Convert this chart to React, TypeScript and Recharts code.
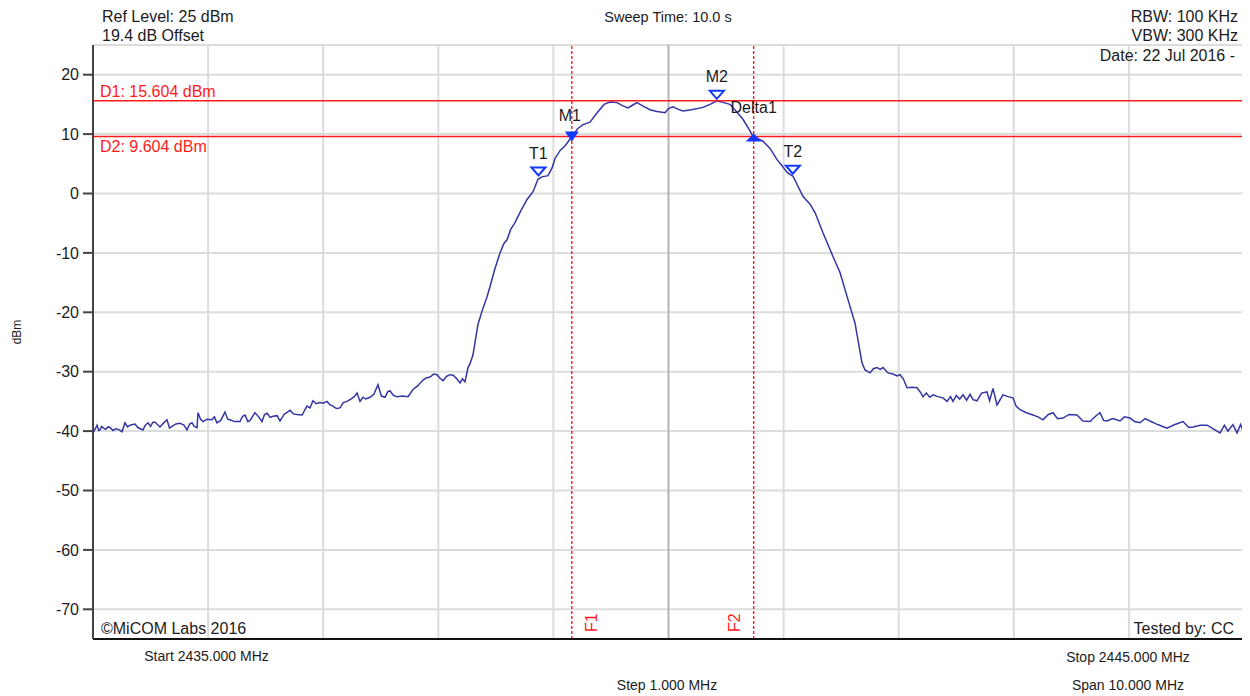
import React from "react";
import { ComposedChart, Line, XAxis, YAxis, ReferenceLine, Scatter } from "recharts";

// Trace: frequency (MHz) and level (dBm)
const freqs = [
  2435.0, 2435.02, 2435.035, 2435.05, 2435.061, 2435.075, 2435.087, 2435.11, 2435.13, 2435.148,
  2435.174, 2435.2, 2435.23, 2435.252, 2435.278, 2435.3, 2435.321, 2435.345, 2435.365, 2435.39,
  2435.434, 2435.455, 2435.478, 2435.5, 2435.52, 2435.539, 2435.56, 2435.582, 2435.61, 2435.643,
  2435.665, 2435.686, 2435.72, 2435.756, 2435.79, 2435.817, 2435.84, 2435.86, 2435.88, 2435.904,
  2435.912, 2435.935, 2435.956, 2435.99, 2436.034, 2436.055, 2436.077, 2436.11, 2436.147, 2436.17,
  2436.19, 2436.23, 2436.277, 2436.3, 2436.321, 2436.345, 2436.364, 2436.407, 2436.44, 2436.468,
  2436.49, 2436.512, 2436.54, 2436.564, 2436.6, 2436.625, 2436.66, 2436.712, 2436.74, 2436.772,
  2436.816, 2436.859, 2436.885, 2436.911, 2436.94, 2436.972, 2437.0, 2437.033, 2437.06, 2437.085,
  2437.115, 2437.146, 2437.175, 2437.207, 2437.24, 2437.27, 2437.294, 2437.32, 2437.346, 2437.37,
  2437.407, 2437.44, 2437.476, 2437.505, 2437.537, 2437.56, 2437.58, 2437.61, 2437.641, 2437.69,
  2437.737, 2437.78, 2437.82, 2437.867, 2437.9, 2437.928, 2437.96, 2437.989, 2438.015, 2438.041,
  2438.07, 2438.102, 2438.13, 2438.16, 2438.189, 2438.21, 2438.232, 2438.258, 2438.275, 2438.301,
  2438.345, 2438.38, 2438.42, 2438.449, 2438.49, 2438.536, 2438.57, 2438.597, 2438.63, 2438.666,
  2438.72, 2438.771, 2438.823, 2438.866, 2438.901, 2438.953, 2438.99, 2439.014, 2439.06, 2439.1,
  2439.162, 2439.21, 2439.257, 2439.318, 2439.38, 2439.44, 2439.492, 2439.553, 2439.6, 2439.648,
  2439.69, 2439.726, 2439.78, 2439.839, 2439.9, 2439.97, 2440.0, 2440.039, 2440.08, 2440.126,
  2440.2, 2440.3, 2440.36, 2440.421, 2440.48, 2440.534, 2440.59, 2440.647, 2440.7, 2440.734,
  2440.78, 2440.821, 2440.882, 2440.943, 2440.99, 2441.029, 2441.082, 2441.169, 2441.23, 2441.273,
  2441.342, 2441.429, 2441.49, 2441.577, 2441.62, 2441.681, 2441.707, 2441.751, 2441.78, 2441.811,
  2441.84, 2441.864, 2441.907, 2441.95, 2441.985, 2442.011, 2442.04, 2442.072, 2442.12, 2442.159,
  2442.19, 2442.211, 2442.24, 2442.27, 2442.298, 2442.34, 2442.385, 2442.42, 2442.45, 2442.472,
  2442.5, 2442.53, 2442.559, 2442.59, 2442.62, 2442.646, 2442.68, 2442.72, 2442.767, 2442.79,
  2442.819, 2442.854, 2442.906, 2442.95, 2442.993, 2443.02, 2443.054, 2443.11, 2443.167, 2443.21,
  2443.254, 2443.3, 2443.341, 2443.38, 2443.428, 2443.48, 2443.549, 2443.6, 2443.662, 2443.71,
  2443.749, 2443.78, 2443.81, 2443.86, 2443.923, 2443.96, 2444.01, 2444.05, 2444.096, 2444.14,
  2444.183, 2444.25, 2444.331, 2444.4, 2444.47, 2444.52, 2444.557, 2444.62, 2444.679, 2444.74,
  2444.792, 2444.83, 2444.86, 2444.904, 2444.94, 2444.97, 2445.0,
];
const levels = [
  -40.3, -39.6, -39.0, -39.9, -39.8, -39.2, -39.4, -39.7, -39.3, -39.4,
  -39.9, -39.6, -39.8, -40.1, -38.6, -39.3, -39.0, -38.9, -38.8, -39.4,
  -39.8, -39.0, -38.6, -39.2, -38.5, -38.5, -38.9, -39.3, -38.7, -38.1,
  -39.5, -39.2, -38.8, -38.7, -39.0, -39.8, -38.8, -38.6, -39.2, -39.4,
  -36.9, -38.0, -38.4, -38.0, -38.1, -37.6, -38.6, -38.2, -36.8, -38.0,
  -38.1, -38.4, -38.4, -37.5, -37.3, -38.4, -38.2, -36.9, -37.6, -38.4,
  -37.2, -37.0, -37.7, -37.5, -37.4, -38.3, -37.2, -36.5, -37.1, -37.2,
  -37.3, -35.8, -36.1, -34.9, -35.4, -35.2, -35.3, -35.0, -35.6, -35.8,
  -36.2, -36.1, -35.2, -35.0, -34.6, -34.2, -33.6, -35.0, -34.3, -34.6,
  -34.3, -33.8, -32.2, -34.1, -34.3, -33.4, -33.2, -34.0, -34.2, -34.1,
  -34.2, -33.0, -32.4, -31.4, -31.0, -30.9, -30.4, -30.5, -31.1, -31.5,
  -30.8, -30.5, -30.6, -31.2, -31.9, -31.2, -31.7, -29.3, -28.7, -27.2,
  -22.0, -19.8, -17.6, -15.7, -12.8, -10.0, -8.4, -7.8, -6.0, -4.9,
  -2.8, -1.0, 0.3, 2.4, 2.8, 3.0, 4.4, 5.9, 7.3, 8.0,
  9.6, 10.9, 11.6, 12.0, 13.6, 15.0, 15.4, 15.3, 14.8, 14.4,
  14.9, 15.3, 14.7, 14.1, 13.8, 13.6, 14.3, 14.6, 14.2, 13.9,
  14.1, 14.5, 15.0, 15.6, 15.3, 15.0, 13.8, 12.5, 10.8, 9.6,
  9.2, 8.8, 7.6, 5.7, 4.6, 3.6, 2.9, -0.5, -1.8, -3.2,
  -6.6, -10.6, -13.3, -19.0, -21.8, -28.5, -29.7, -30.2, -29.5, -29.3,
  -29.6, -29.3, -30.2, -30.4, -30.7, -30.5, -31.2, -32.7, -32.6, -32.7,
  -33.5, -34.2, -33.6, -34.3, -33.9, -34.2, -34.4, -35.0, -34.2, -35.0,
  -34.0, -34.6, -33.9, -34.8, -33.8, -34.7, -34.9, -33.6, -33.4, -34.9,
  -32.8, -35.6, -33.9, -34.2, -34.4, -35.8, -36.4, -36.9, -37.3, -37.6,
  -38.1, -37.2, -36.9, -37.9, -37.8, -37.2, -37.3, -38.3, -38.4, -37.5,
  -36.9, -38.2, -38.3, -37.9, -38.3, -37.6, -37.8, -38.4, -38.6, -37.9,
  -38.3, -38.9, -39.5, -38.9, -38.4, -39.4, -39.3, -39.0, -39.0, -39.7,
  -40.3, -39.0, -40.0, -38.9, -40.3, -38.9, -40.3,
];

const yTicks = [20, 10, 0, -10, -20, -30, -40, -50, -60, -70];
const yGridLevels = [25, 20, 10, 0, -10, -20, -30, -40, -50, -60, -70];
const xGridFreqs = [2435, 2436, 2437, 2438, 2439, 2441, 2442, 2443, 2444, 2445];
const centerFreq = 2440;
const xTicks = [2435, 2437, 2439, 2441, 2443, 2445];

const displayLineNames = ["D1", "D2"];
const displayLineLevels = [15.604, 9.604];
const displayLineTexts = ["D1: 15.604 dBm", "D2: 9.604 dBm"];

const freqLineNames = ["F1", "F2"];
const freqLineValues = [2439.16, 2440.74];

const markerNames = ["T1", "M1", "M2", "Delta1", "T2"];
const markerFreqs = [2438.87, 2439.16, 2440.42, 2440.74, 2441.08];
const markerLevels = [2.7, 9.604, 15.604, 9.604, 3.0];
const markerKinds = ["open", "down", "open", "up", "open"];

const trace = freqs.map((f, i) => ({ f, v: levels[i] }));
const markers = markerNames.map((name, i) => ({ f: markerFreqs[i], v: markerLevels[i], name, kind: markerKinds[i] }));
const dLabels = displayLineNames.map((name, i) => ({ f: 2435, v: displayLineLevels[i], name, text: displayLineTexts[i] }));
const fLabels = freqLineNames.map((name, i) => ({ f: freqLineValues[i], v: -75, name }));

const RED = "#ff1a1a";
const BLUE = "#1238ff";
const TRACE = "#3535a3";
const TEXT = "#1c1c1c";

const MarkerShape = (props: any) => {
  const { cx, cy, payload } = props;
  if (cx == null || cy == null) return null;
  let tri: React.ReactNode;
  let dy = -18.5;
  if (payload.kind === "open") {
    tri = (
      <polygon
        points={`${cx - 7},${cy - 10} ${cx + 7},${cy - 10} ${cx},${cy - 2}`}
        fill="#ffffff"
        stroke={BLUE}
        strokeWidth={2}
      />
    );
  } else if (payload.kind === "down") {
    tri = <polygon points={`${cx - 7},${cy - 5} ${cx + 7},${cy - 5} ${cx},${cy + 5}`} fill={BLUE} />;
    dy = -15.5;
  } else {
    tri = <polygon points={`${cx},${cy - 3} ${cx - 8},${cy + 5} ${cx + 8},${cy + 5}`} fill={BLUE} />;
    dy = -23;
  }
  return (
    <g>
      {tri}
      <text x={payload.kind === "down" ? cx - 2 : cx} y={cy + dy} textAnchor="middle" fontSize={16} fill={TEXT}>
        {payload.name}
      </text>
    </g>
  );
};

const DLabelShape = (props: any) => {
  const { cx, cy, payload } = props;
  if (cx == null || cy == null) return null;
  const above = payload.name === "D1";
  return (
    <text x={cx + 7} y={above ? cy - 4 : cy + 16} fontSize={16} fill={RED}>
      {payload.text}
    </text>
  );
};

const FLabelShape = (props: any) => {
  const { cx, cy, payload } = props;
  if (cx == null || cy == null) return null;
  const x = payload.name === "F1" ? cx + 25 : cx - 14;
  const y = cy - 7;
  return (
    <text x={x} y={y} fontSize={16} fill={RED} transform={`rotate(-90 ${x} ${y})`}>
      {payload.name}
    </text>
  );
};

export default function App() {
  return (
    <div style={{ position: "relative", width: 1242, height: 688, fontFamily: "'Liberation Sans', Arial, sans-serif", background: "#fff" }}>
      <ComposedChart width={1242} height={688} margin={{ top: 37, right: 6, left: 25, bottom: 37 }}>
        <XAxis
          dataKey="f"
          type="number"
          domain={[2435, 2445]}
          ticks={xTicks}
          tick={false}
          tickSize={7}
          allowDataOverflow
          axisLine={{ stroke: "#111", strokeWidth: 2 }}
          tickLine={{ stroke: "#111", strokeWidth: 2 }}
          height={20}
        />
        <YAxis
          dataKey="v"
          type="number"
          domain={[-75, 25]}
          ticks={yTicks}
          interval={0}
          allowDataOverflow
          tickSize={10}
          tickMargin={4}
          width={60}
          axisLine={{ stroke: "#444", strokeWidth: 2 }}
          tickLine={{ stroke: "#444", strokeWidth: 2 }}
          tick={{ fill: TEXT, fontSize: 16 }}
        />
        {yGridLevels.map((y) => (
          <ReferenceLine key={`hy${y}`} y={y} stroke="#dcdcdc" strokeWidth={2} />
        ))}
        {xGridFreqs.map((x) => (
          <ReferenceLine key={`vx${x}`} x={x} stroke="#dcdcdc" strokeWidth={2} />
        ))}
        <ReferenceLine x={centerFreq} stroke="#b4b4b4" strokeWidth={2} />
        <Line
          data={trace}
          dataKey="v"
          type="linear"
          stroke={TRACE}
          strokeWidth={1.5}
          dot={false}
          isAnimationActive={false}
        />
        {displayLineLevels.map((y, i) => (
          <ReferenceLine key={displayLineNames[i]} y={y} stroke={RED} strokeWidth={1.6} />
        ))}
        {freqLineValues.map((x, i) => (
          <ReferenceLine key={freqLineNames[i]} x={x} stroke={RED} strokeWidth={1.4} strokeDasharray="3 2" />
        ))}
        <Scatter data={dLabels} dataKey="v" shape={DLabelShape} isAnimationActive={false} />
        <Scatter data={fLabels} dataKey="v" shape={FLabelShape} isAnimationActive={false} />
        <Scatter data={markers} dataKey="v" shape={MarkerShape} isAnimationActive={false} />
      </ComposedChart>
      <svg width={1242} height={688} style={{ position: "absolute", left: 0, top: 0, pointerEvents: "none" }}>
        <g fill={TEXT} fontSize={16}>
          <text x={94} y={14}>Ref Level: 25 dBm</text>
          <text x={94} y={33}>19.4 dB Offset</text>
          <text x={1230} y={14} textAnchor="end">RBW: 100 KHz</text>
          <text x={1230} y={33} textAnchor="end">VBW: 300 KHz</text>
          <text x={1227} y={53} textAnchor="end">Date: 22 Jul 2016 -</text>
          <text x={93} y={626}>©MiCOM Labs 2016</text>
          <text x={1226} y={626} textAnchor="end">Tested by: CC</text>
        </g>
        <text x={660} y={14} textAnchor="middle" fontSize={14.5} fill={TEXT}>Sweep Time: 10.0 s</text>
        <g fill={TEXT} fontSize={14}>
          <text x={198.5} y={653} textAnchor="middle">Start 2435.000 MHz</text>
          <text x={659} y={682} textAnchor="middle">Step 1.000 MHz</text>
          <text x={1120} y={654} textAnchor="middle">Stop 2445.000 MHz</text>
          <text x={1120} y={682} textAnchor="middle">Span 10.000 MHz</text>
        </g>
        <text x={10} y={324} fontSize={12} fill={TEXT} textAnchor="middle" transform="rotate(-90 10 324)" dominantBaseline="middle">
          dBm
        </text>
      </svg>
    </div>
  );
}
